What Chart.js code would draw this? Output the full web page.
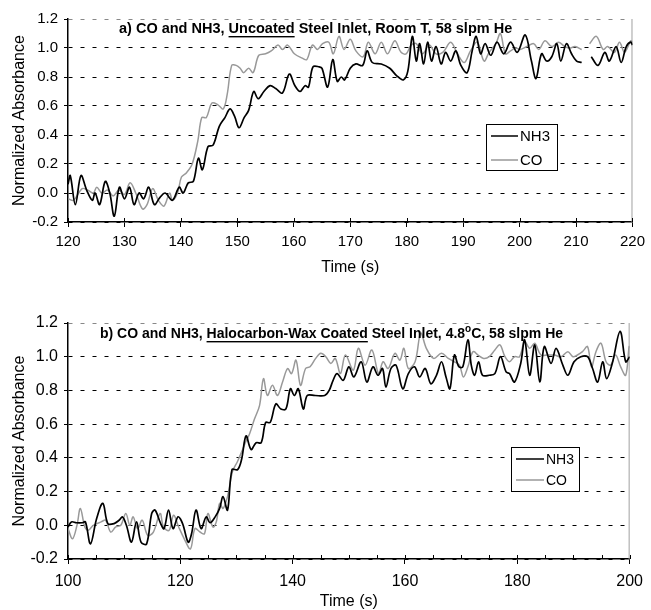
<!DOCTYPE html>
<html>
<head>
<meta charset="utf-8">
<script src="https://cdn.jsdelivr.net/npm/chart.js@4.4.0/dist/chart.umd.min.js"></script>
<style>
  html, body { margin: 0; padding: 0; background: #fff; overflow: hidden; }
  #panelA { position: absolute; left: 0; top: 0; width: 651px; height: 280px; }
  #panelB { position: absolute; left: 0; top: 300px; width: 651px; height: 310px; }
</style>
</head>
<body>
<div id="panelA"><canvas id="chartA"></canvas></div>
<div id="panelB"><canvas id="chartB"></canvas></div>
<script>
// tick values
const yTicks = [-0.2, 0.0, 0.2, 0.4, 0.6, 0.8, 1.0, 1.2];
const xTicksA = [120, 130, 140, 150, 160, 170, 180, 190, 200, 210, 220];
const xTicksB = [100, 120, 140, 160, 180, 200];
const seriesNames = ['NH3', 'CO'];

// panel a) uncoated steel inlet, room T
const nh3TimeA = [120.0, 120.4, 121.3, 122.3, 123.3, 124.3, 124.8, 125.6, 126.6, 127.4,
  128.2, 129.1, 130.0, 130.9, 131.7, 132.6, 133.4, 134.3, 135.3, 136.3,
  137.2, 138.5, 139.7, 140.4, 141.3, 142.2, 143.1, 143.8, 144.8, 145.7,
  146.8, 147.8, 148.7, 149.5, 150.3, 151.2, 152.0, 152.9, 153.7, 154.7,
  155.8, 156.8, 158.0, 159.2, 160.2, 161.1, 162.0, 162.6, 163.4, 164.5,
  165.0, 166.0, 166.9, 167.7, 168.4, 169.0, 170.0, 171.0, 172.2, 173.0,
  173.9, 175.5, 177.0, 178.2, 179.4, 180.2, 181.0, 181.7, 182.3, 183.0,
  183.7, 184.4, 185.2, 186.1, 186.9, 187.8, 188.7, 189.6, 190.7, 191.6,
  192.3, 193.1, 193.9, 194.9, 196.0, 197.2, 198.4, 199.6, 201.0, 202.1,
  202.9, 203.9, 204.8, 205.7, 206.6, 207.3, 208.3, 209.2, 210.1, 211.0,
  211.8, 212.7, 213.9, 215.1, 215.9, 217.1, 218.0, 218.9, 219.7, 220.0];
const nh3ValA = [0.06, 0.12, -0.08, 0.12, 0.02, -0.05, 0.00, -0.08, 0.08, 0.00,
  -0.16, 0.04, -0.04, 0.04, -0.08, 0.00, -0.04, 0.04, -0.08, -0.03,
  0.00, -0.05, 0.04, 0.00, 0.07, 0.08, 0.24, 0.16, 0.32, 0.33,
  0.46, 0.52, 0.58, 0.53, 0.45, 0.52, 0.57, 0.70, 0.65, 0.70,
  0.74, 0.72, 0.69, 0.82, 0.74, 0.70, 0.74, 0.73, 0.87, 0.87,
  0.86, 0.73, 0.92, 0.77, 0.80, 0.78, 0.86, 0.89, 0.88, 0.98,
  0.90, 0.89, 0.86, 0.81, 0.78, 0.84, 1.08, 0.91, 1.03, 0.89,
  1.04, 0.91, 1.01, 0.89, 0.97, 0.91, 0.98, 0.88, 0.83, 0.98,
  1.08, 0.96, 1.03, 0.95, 1.04, 0.96, 1.04, 0.97, 1.09, 0.91,
  0.79, 0.96, 0.91, 0.94, 1.03, 0.91, 1.03, 0.96, 0.91, 0.90,
  null, 0.94, 0.88, 0.97, 0.91, 1.01, 0.90, 1.01, 1.04, 1.02];

const coTimeA = [120.0, 121.0, 122.5, 123.5, 124.5, 125.1, 126.0, 127.0, 128.0, 129.0,
  130.0, 131.0, 132.0, 133.2, 134.0, 135.0, 136.0, 137.0, 138.0, 138.5,
  139.4, 140.1, 141.0, 142.0, 143.0, 143.7, 144.5, 145.5, 146.5, 147.5,
  148.2, 149.0, 149.8, 150.5, 151.1, 152.0, 152.8, 153.8, 155.0, 156.0,
  157.2, 158.0, 158.9, 160.1, 161.5, 162.3, 163.3, 164.2, 165.1, 166.2,
  167.0, 168.0, 168.9, 170.0, 171.0, 172.3, 173.2, 174.4, 175.5, 176.6,
  177.9, 179.0, 179.9, 180.8, 181.7, 182.8, 184.0, 185.2, 186.4, 187.8,
  189.0, 190.2, 191.3, 192.5, 193.7, 194.6, 195.8, 196.6, 197.5, 198.4,
  199.3, 200.1, 201.3, 202.5, 203.4, 204.5, 205.7, 206.9, 208.0, 209.0,
  209.8, 211.0, 211.7, 212.4, 213.6, 214.8, 215.6, 216.8, 217.7, 218.6,
  219.7, 220.0];
const coValA = [-0.04, -0.05, 0.03, 0.02, 0.00, 0.04, 0.00, 0.02, -0.02, 0.02,
  -0.01, 0.07, 0.00, -0.11, -0.08, 0.03, -0.05, -0.09, 0.00, -0.05,
  0.00, 0.11, 0.14, 0.20, 0.36, 0.52, 0.52, 0.62, 0.61, 0.58,
  0.68, 0.88, 0.88, 0.86, 0.83, 0.86, 0.83, 0.95, 0.96, 0.98,
  1.02, 0.99, 1.02, 0.96, 0.93, 0.92, 1.02, 0.99, 1.03, 1.04,
  0.96, 1.08, 0.99, 1.06, 0.98, 0.94, 1.04, 0.96, 1.04, 0.96,
  1.05, 0.97, 0.96, 1.02, 1.03, 0.96, 1.02, 0.96, 0.97, 1.04,
  0.96, 0.90, 0.98, 1.04, 0.91, 0.97, 1.03, 1.10, 0.96, 0.98,
  1.00, 0.99, 1.01, 1.03, 0.99, 1.05, 1.01, 1.04, 1.01, 1.00,
  1.01, 0.99, null, 1.03, 1.08, 0.99, 1.01, 0.97, 1.04, 0.97,
  1.05, 1.04];

// panel b) halocarbon-wax coated steel inlet, 4.8 C
const nh3TimeB = [100.0, 100.6, 101.5, 102.5, 103.1, 104.0, 105.1, 106.2, 107.1, 108.2,
  109.1, 109.7, 110.4, 111.3, 112.2, 113.0, 114.0, 114.9, 115.5, 116.5,
  117.1, 117.9, 118.7, 119.6, 120.4, 121.4, 122.0, 122.8, 123.7, 124.6,
  125.3, 126.2, 127.0, 127.6, 128.4, 129.2, 130.2, 130.9, 131.7, 132.6,
  133.5, 134.4, 135.2, 136.0, 137.0, 137.9, 138.8, 139.6, 140.3, 141.0,
  141.9, 142.6, 144.0, 145.7, 146.5, 147.2, 147.9, 149.0, 150.0, 150.9,
  152.2, 153.2, 154.3, 155.2, 156.0, 156.6, 157.5, 158.4, 159.6, 160.6,
  161.7, 162.6, 163.6, 164.6, 165.6, 166.5, 167.3, 168.0, 168.8, 169.6,
  170.3, 171.2, 171.8, 172.4, 173.1, 173.8, 175.0, 176.0, 177.0, 178.0,
  178.6, 179.5, 180.6, 181.3, 182.2, 183.1, 184.0, 184.8, 186.0, 186.9,
  188.1, 189.0, 190.1, 191.3, 192.5, 193.4, 194.3, 195.2, 195.9, 196.9,
  198.3, 199.3, 200.0];
const nh3ValB = [-0.01, 0.02, 0.015, 0.015, 0.02, -0.11, 0.04, 0.13, 0.01, 0.01,
  0.03, 0.05, 0.00, -0.10, 0.02, -0.10, -0.11, 0.07, 0.09, 0.01,
  -0.02, 0.09, -0.02, 0.05, 0.01, -0.10, -0.05, 0.09, -0.02, 0.05,
  0.015, 0.05, 0.10, 0.17, 0.09, 0.33, 0.33, 0.39, 0.53, 0.45,
  0.49, 0.49, 0.61, 0.61, 0.72, 0.69, 0.69, 0.81, 0.77, 0.81,
  0.69, 0.77, 0.77, 0.77, 0.80, 0.86, 0.90, 0.86, 0.94, 0.88,
  0.97, 0.85, 0.94, 0.89, 0.93, 0.82, 0.93, 0.95, 0.81, 0.90,
  0.94, 0.88, 0.93, 0.84, 0.89, 0.97, 0.88, 0.81, 1.01, 0.94,
  0.94, 1.10, 0.95, 0.89, 0.97, 0.89, 0.89, 0.90, 1.00, 0.91,
  0.90, 0.85, 0.96, 1.10, 0.89, 1.07, 0.85, 1.06, 0.96, 1.05,
  0.95, 0.89, 0.97, 1.00, 1.00, 0.93, 0.85, 0.97, 0.87, 0.96,
  1.15, 0.97, 1.00];

const coTimeB = [100.0, 100.8, 101.6, 102.2, 103.0, 103.6, 104.5, 105.2, 105.9, 106.7,
  107.6, 108.5, 109.4, 110.3, 111.0, 111.6, 112.4, 113.2, 114.2, 115.2,
  116.4, 117.0, 118.0, 118.8, 119.7, 120.7, 121.8, 122.6, 123.5, 124.3,
  124.9, 125.8, 126.4, 127.0, 127.6, 128.4, 129.3, 130.2, 131.1, 131.7,
  132.3, 133.2, 134.1, 134.8, 135.5, 136.4, 137.3, 138.2, 139.1, 139.8,
  140.6, 141.4, 142.3, 143.1, 144.1, 145.0, 145.9, 146.8, 147.6, 148.5,
  149.4, 150.8, 151.7, 152.9, 154.1, 155.3, 156.1, 157.0, 158.2, 159.1,
  159.8, 160.6, 161.8, 162.8, 163.8, 165.1, 166.5, 167.7, 168.8, 169.7,
  170.4, 171.2, 172.1, 173.0, 174.0, 175.0, 176.0, 176.9, 177.8, 178.6,
  179.5, 180.4, 181.3, 182.2, 183.1, 184.2, 185.4, 186.6, 187.8, 189.0,
  189.9, 190.7, 191.6, 192.5, 193.2, 194.0, 194.9, 195.8, 196.6, 197.5,
  198.4, 199.3, 199.9, 200.0];
const coValB = [-0.02, -0.08, 0.00, 0.10, -0.01, -0.03, 0.00, 0.01, 0.02, 0.03,
  -0.04, -0.01, 0.00, 0.07, 0.00, 0.05, -0.02, 0.03, -0.06, -0.04,
  0.07, -0.01, -0.03, 0.06, -0.01, -0.08, -0.14, -0.02, -0.04, -0.05,
  0.07, -0.01, 0.02, 0.13, 0.10, 0.17, 0.32, 0.38, 0.45, 0.50,
  0.54, 0.63, 0.71, 0.87, 0.77, 0.83, 0.77, 0.85, 0.93, 0.90,
  0.98, 0.83, 0.93, 0.94, 0.99, 1.02, 1.00, 0.96, 0.99, 0.90,
  1.01, 0.92, 1.05, 0.95, 1.04, 0.90, 0.97, 0.93, 1.02, 0.98,
  1.05, 0.93, 0.97, 1.14, 1.05, 0.99, 1.02, 0.99, 0.97, 0.95,
  0.88, 0.94, 1.03, 1.01, 0.99, 1.00, 1.04, 1.07, 1.00, 0.97,
  1.00, 1.00, 1.09, 1.05, 1.08, 1.01, 1.01, 1.01, 1.00, 1.03,
  1.00, 1.01, 1.03, 1.06, 0.94, 1.03, 1.08, 0.97, 0.95, 1.01,
  0.94, 0.89, 1.06, 1.05];

const FONT = 'Arial, "Liberation Sans", sans-serif';

function points(times, vals) {
  return times.map((t, i) => ({ x: t, y: vals[i] }));
}

// frame, inward x ticks, in-plot title and legend box
const panelDecor = {
  id: 'panelDecor',
  beforeDatasetsDraw(chart, args, opts) {
    const { ctx, chartArea: a, scales: { x } } = chart;
    ctx.save();
    ctx.strokeStyle = '#a0a0a0';
    ctx.lineWidth = 1;
    ctx.beginPath();
    ctx.moveTo(a.right - 0.5, a.top);
    ctx.lineTo(a.right - 0.5, a.bottom);
    ctx.stroke();
    ctx.strokeStyle = '#000';
    ctx.beginPath();
    for (let v = x.min; v <= x.max + 1e-6; v += opts.minorStep) {
      const px = Math.round(x.getPixelForValue(v)) + 0.5;
      ctx.moveTo(px, a.bottom);
      ctx.lineTo(px, a.bottom - 4);
    }
    ctx.stroke();
    ctx.restore();
  },
  afterDraw(chart, args, opts) {
    const { ctx, chartArea: a } = chart;
    ctx.save();
    // title
    let tx = a.left + opts.titleDx;
    const ty = a.top + opts.titleDy;
    ctx.fillStyle = '#000';
    ctx.textBaseline = 'middle';
    opts.title.forEach(part => {
      if (part.sup) {
        ctx.font = 'bold 10px ' + FONT;
        ctx.fillText(part.text, tx, ty - 5);
        tx += ctx.measureText(part.text).width;
        return;
      }
      ctx.font = 'bold ' + opts.titleSize + 'px ' + FONT;
      const w = ctx.measureText(part.text).width;
      ctx.fillText(part.text, tx, ty);
      if (part.underline) {
        ctx.fillRect(tx, ty + 7, w, 1.4);
      }
      tx += w;
    });
    // legend
    const L = opts.legend;
    const lx = a.left + L.dx, ly = a.top + L.dy;
    ctx.fillStyle = '#fff';
    ctx.fillRect(lx, ly, L.w, L.h);
    ctx.strokeStyle = '#000';
    ctx.lineWidth = 1;
    ctx.strokeRect(lx + 0.5, ly + 0.5, L.w, L.h);
    ctx.font = L.size + 'px ' + FONT;
    chart.data.datasets.forEach((ds, i) => {
      const ry = ly + L.row0 + i * L.rowGap;
      ctx.strokeStyle = ds.borderColor;
      ctx.lineWidth = 1.5;
      ctx.beginPath();
      ctx.moveTo(lx + 5, ry);
      ctx.lineTo(lx + 5 + L.line, ry);
      ctx.stroke();
      ctx.fillStyle = '#000';
      ctx.textBaseline = 'middle';
      ctx.fillText(ds.label, lx + 7 + L.line, ry + 1);
    });
    ctx.restore();
  }
};

function makeChart(id, cfg) {
  const ctx = document.getElementById(id).getContext('2d');
  return new Chart(ctx, {
    type: 'line',
    data: {
      datasets: [
        { label: seriesNames[0], data: points(cfg.nh3T, cfg.nh3V), borderColor: '#000',
          borderWidth: 1.7, pointRadius: 0, tension: 0.35, spanGaps: false },
        { label: seriesNames[1], data: points(cfg.coT, cfg.coV), borderColor: '#999',
          borderWidth: 1.5, pointRadius: 0, tension: 0.35, spanGaps: false }
      ]
    },
    options: {
      responsive: true,
      maintainAspectRatio: false,
      animation: false,
      events: [],
      layout: { padding: { top: cfg.padTop, right: cfg.padRight, left: 0, bottom: 0 } },
      plugins: {
        legend: { display: false },
        tooltip: { enabled: false },
        panelDecor: cfg.decor
      },
      scales: {
        x: {
          type: 'linear',
          min: cfg.xTicks[0],
          max: cfg.xTicks[cfg.xTicks.length - 1],
          afterBuildTicks: s => { s.ticks = cfg.xTicks.map(v => ({ value: v })); },
          afterFit: s => { s.height = cfg.xHeight; },
          grid: { drawOnChartArea: false, drawTicks: true, tickLength: 5, tickColor: '#000', tickWidth: 1 },
          border: { color: '#000', width: 1.5 },
          ticks: { color: '#000', font: { family: FONT, size: cfg.tickSize }, padding: cfg.xTickPad, maxRotation: 0 },
          title: { display: true, text: 'Time (s)', color: '#000',
            font: { family: FONT, size: 16, lineHeight: 1 }, padding: { top: 0, bottom: cfg.xTitlePad } }
        },
        y: {
          min: -0.2,
          max: 1.2,
          afterBuildTicks: s => { s.ticks = yTicks.map(v => ({ value: v })); },
          afterFit: s => { s.width = cfg.yWidth; },
          grid: {
            color: c => (c.tick && c.tick.value > 1.19 ? '#888' : '#000'),
            lineWidth: 1, drawTicks: true, tickLength: 4, tickColor: '#000', tickWidth: 1
          },
          border: { color: '#000', width: 1.5, dash: [4, 8] },
          ticks: { color: '#000', font: { family: FONT, size: cfg.tickSize }, padding: 6,
            callback: v => v.toFixed(1) },
          title: { display: true, text: 'Normalized Absorbance', color: '#000',
            font: { family: FONT, size: 16, lineHeight: 1 }, padding: { top: 12, bottom: 0 } }
        }
      }
    },
    plugins: [panelDecor]
  });
}

makeChart('chartA', {
  nh3T: nh3TimeA, nh3V: nh3ValA, coT: coTimeA, coV: coValA,
  xTicks: xTicksA, padTop: 19, padRight: 13, xHeight: 58, yWidth: 68,
  tickSize: 15, xTickPad: 6, xTitlePad: 4,
  decor: {
    minorStep: 10, titleDx: 51, titleDy: 10, titleSize: 14.5,
    title: [
      { text: 'a) CO and NH3, ' },
      { text: 'Uncoated', underline: true },
      { text: ' Steel Inlet, Room T, 58 slpm He' }
    ],
    legend: { dx: 418, dy: 105, w: 71, h: 46, row0: 12, rowGap: 24, line: 27, size: 15 }
  }
});

makeChart('chartB', {
  nh3T: nh3TimeB, nh3V: nh3ValB, coT: coTimeB, coV: coValB,
  xTicks: xTicksB, padTop: 23, padRight: 19, xHeight: 51, yWidth: 68,
  tickSize: 16, xTickPad: 8, xTitlePad: 0,
  decor: {
    minorStep: 5, titleDx: 32, titleDy: 11, titleSize: 14,
    title: [
      { text: 'b) CO and NH3, ' },
      { text: 'Halocarbon-Wax Coated', underline: true },
      { text: ' Steel Inlet, 4.8' },
      { text: 'o', sup: true },
      { text: 'C, 58 slpm He' }
    ],
    legend: { dx: 443, dy: 124, w: 68, h: 44, row0: 12, rowGap: 21, line: 28, size: 14 }
  }
});
</script>
</body>
</html>
